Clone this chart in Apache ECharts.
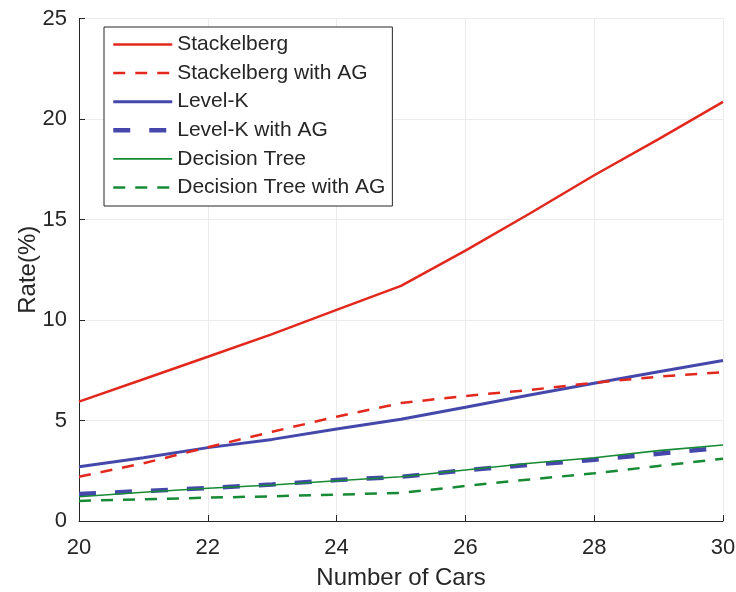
<!DOCTYPE html>
<html>
<head>
<meta charset="utf-8">
<script src="https://cdn.jsdelivr.net/npm/echarts@6/dist/echarts.min.js"></script>
<style>html,body{margin:0;padding:0;background:#fff}#c{width:736px;height:592px}</style>
</head>
<body>
<div id="c"></div>
<script>
const cars = [20, 21, 22, 23, 24, 25, 26, 27, 28, 29, 30];
const stackelberg = [5.94, 7.05, 8.17, 9.3, 10.5, 11.7, 13.45, 15.3, 17.2, 19.0, 20.85];
const stackelbergAG = [2.2, 2.87, 3.67, 4.44, 5.19, 5.87, 6.22, 6.52, 6.88, 7.18, 7.4];
const levelK = [2.7, 3.15, 3.65, 4.06, 4.58, 5.06, 5.66, 6.27, 6.85, 7.43, 7.98];
const levelKAG = [1.34, 1.49, 1.64, 1.82, 2.04, 2.2, 2.52, 2.8, 3.05, 3.35, 3.65];
const decisionTree = [1.21, 1.43, 1.63, 1.79, 2.0, 2.2, 2.54, 2.87, 3.15, 3.5, 3.78];
const decisionTreeAG = [1.0, 1.08, 1.16, 1.23, 1.31, 1.4, 1.74, 2.07, 2.37, 2.74, 3.1];
const seriesNames = ['Stackelberg', 'Stackelberg with AG', 'Level-K', 'Level-K with AG', 'Decision Tree', 'Decision Tree with AG'];

const RED = '#e2281c', BLUE = '#4548aa', GREEN = '#168a34';
const FONT = 'Liberation Sans, Arial, Helvetica, sans-serif';
const TXT = '#262626';

function pts(ys) { return cars.map((x, i) => [x, ys[i]]); }
function mk(name, ys, color, width, type, z) {
  return {
    name, type: 'line', data: pts(ys), symbol: 'none', smooth: false,
    lineStyle: { color, width, type }, itemStyle: { color }, z: z, animation: false
  };
}
const series = [
  mk(seriesNames[0], stackelberg, RED, 2.5, 'solid', 6),
  mk(seriesNames[1], stackelbergAG, RED, 2.5, [12, 10], 5),
  mk(seriesNames[2], levelK, BLUE, 3, 'solid', 4),
  mk(seriesNames[3], levelKAG, BLUE, 4.5, [17, 19], 2),
  mk(seriesNames[4], decisionTree, GREEN, 1.6, 'solid', 3),
  mk(seriesNames[5], decisionTreeAG, GREEN, 2.5, [12, 10], 1)
];

const chart = echarts.init(document.getElementById('c'));
chart.setOption({
  animation: false,
  grid: { left: 79, right: 13, top: 18.5, bottom: 71, containLabel: false, outerBoundsMode: 'none' },
  legend: {
    orient: 'vertical', left: 104, top: 27,
    data: series.map(s => ({ name: s.name, lineStyle: { width: s.lineStyle.width, type: s.lineStyle.type, color: s.lineStyle.color } })),
    itemWidth: 59, itemHeight: 22, itemGap: 7.6,
    padding: [7, 7, 8, 7],
    itemStyle: { opacity: 0 },
    backgroundColor: '#fff', borderColor: TXT, borderWidth: 1,
    textStyle: { fontFamily: FONT, fontSize: 21, color: TXT }
  },
  xAxis: {
    type: 'value', min: 20, max: 30, interval: 2,
    name: 'Number of Cars', nameLocation: 'middle', nameGap: 45, nameMoveOverlap: false,
    nameTextStyle: { fontFamily: FONT, fontSize: 24, color: TXT },
    axisLine: { show: true, lineStyle: { color: TXT, width: 1 } },
    axisTick: { show: true, inside: true, length: 6, lineStyle: { color: TXT } },
    axisLabel: { fontFamily: FONT, fontSize: 22, color: TXT, margin: 16 },
    splitLine: { show: true, lineStyle: { color: '#ebebeb', width: 1 } }
  },
  yAxis: {
    type: 'value', min: 0, max: 25, interval: 5,
    name: 'Rate(%)', nameLocation: 'middle', nameGap: 39, nameMoveOverlap: false,
    nameTextStyle: { fontFamily: FONT, fontSize: 24, color: TXT },
    axisLine: { show: true, lineStyle: { color: TXT, width: 1 } },
    axisTick: { show: true, inside: true, length: 6, lineStyle: { color: TXT } },
    axisLabel: { fontFamily: FONT, fontSize: 22, color: TXT, margin: 12 },
    splitLine: { show: true, lineStyle: { color: '#ebebeb', width: 1 } }
  },
  series: series
});
</script>
</body>
</html>
